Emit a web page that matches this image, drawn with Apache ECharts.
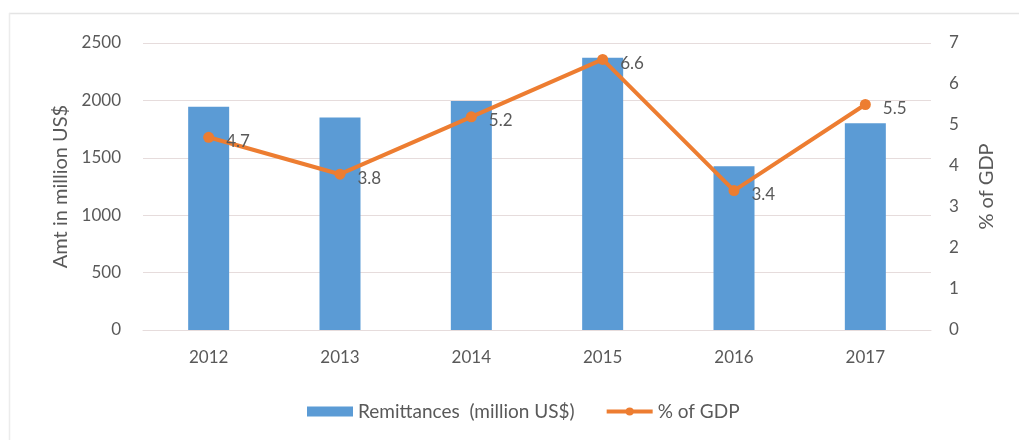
<!DOCTYPE html>
<html>
<head>
<meta charset="utf-8">
<script src="https://cdn.jsdelivr.net/npm/echarts@6/dist/echarts.min.js"></script>
<style>
  html, body { margin: 0; padding: 0; background: #fff; }
  #chart { width: 1019px; height: 440px; }
</style>
</head>
<body>
<div id="chart"></div>
<script>
// Remittance inflows and their share of GDP, 2012–2017
const years = ['2012', '2013', '2014', '2015', '2016', '2017'];
const remittances = [1945, 1850, 1995, 2372, 1426, 1800];
const pctGdp = [4.7, 3.8, 5.2, 6.6, 3.4, 5.5];

const textColor = '#595959';
const gridColor = '#e6dcdc';
const font = 'Lato, "Open Sans", sans-serif';

const chart = echarts.init(document.getElementById('chart'));
chart.setOption({
  backgroundColor: '#ffffff',
  animation: false,
  textStyle: { fontFamily: font, color: textColor },
  graphic: [
    { type: 'line', shape: { x1: 9, y1: 13.5, x2: 1019, y2: 13.5 }, style: { stroke: '#e4e4e4', lineWidth: 1.5 } },
    { type: 'line', shape: { x1: 9.5, y1: 13, x2: 9.5, y2: 440 }, style: { stroke: '#ececec', lineWidth: 1.5 } }
  ],
  grid: { left: 143, right: 88, top: 43, bottom: 110, containLabel: false },
  legend: {
    left: 302,
    top: 397,
    itemWidth: 46,
    itemHeight: 10,
    itemGap: 30,
    textStyle: { fontSize: 19, color: textColor, fontFamily: font },
    data: [
      { name: 'Remittances  (million US$)', icon: 'rect' },
      { name: '% of GDP', lineStyle: { width: 4 } }
    ]
  },
  xAxis: {
    type: 'category',
    data: years,
    axisLine: { show: true, lineStyle: { color: gridColor } },
    axisTick: { show: false },
    axisLabel: { fontSize: 17, color: textColor, margin: 19 }
  },
  yAxis: [
    {
      type: 'value',
      min: 0, max: 2500, interval: 500,
      name: 'Amt in million US$',
      nameLocation: 'middle',
      nameGap: 68,
      nameRotate: 90,
      nameTextStyle: { fontSize: 20, color: textColor },
      axisLine: { show: false },
      axisTick: { show: false },
      axisLabel: { fontSize: 17, color: textColor, margin: 22, formatter: v => String(v) },
      splitLine: { lineStyle: { color: gridColor, width: 1 } }
    },
    {
      type: 'value',
      min: 0, max: 7, interval: 1,
      name: '% of GDP',
      nameLocation: 'middle',
      nameGap: 46,
      nameRotate: 90,
      nameTextStyle: { fontSize: 20, color: textColor },
      position: 'right',
      axisLine: { show: false },
      axisTick: { show: false },
      axisLabel: { fontSize: 17, color: textColor, margin: 18 },
      splitLine: { show: false }
    }
  ],
  series: [
    {
      name: 'Remittances  (million US$)',
      type: 'bar',
      data: remittances,
      barWidth: 41,
      itemStyle: { color: '#5b9bd5' }
    },
    {
      name: '% of GDP',
      type: 'line',
      yAxisIndex: 1,
      data: pctGdp,
      symbol: 'circle',
      symbolSize: 11,
      lineStyle: { color: '#ed7d31', width: 4 },
      itemStyle: { color: '#ed7d31' },
      label: {
        show: true,
        position: 'right',
        distance: 12,
        offset: [0, 4],
        fontSize: 17,
        color: textColor,
        formatter: p => p.value.toFixed(1)
      }
    }
  ]
});
</script>
</body>
</html>
